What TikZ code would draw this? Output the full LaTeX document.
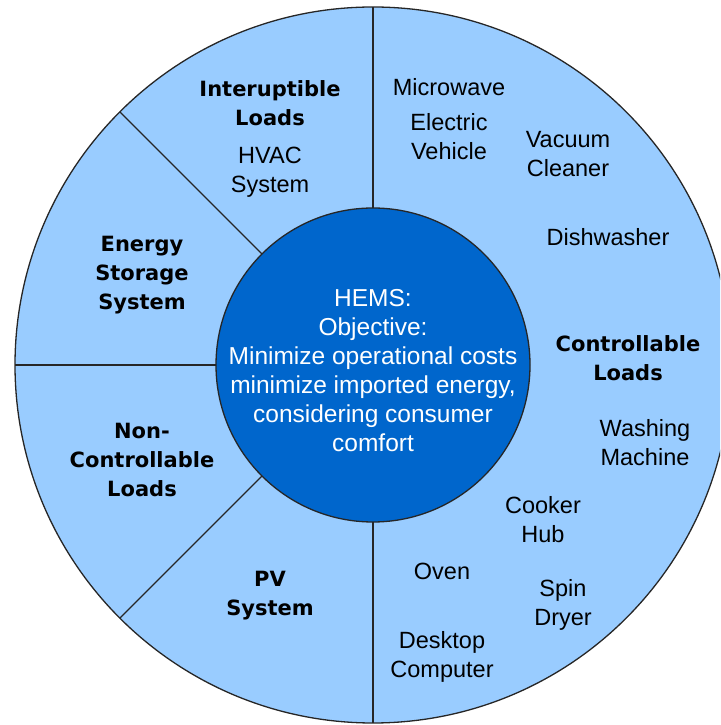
\documentclass[tikz,border=0pt]{standalone}
\usepackage{fontspec}
\setmainfont{Liberation Sans}
\newfontfamily\headfont{DejaVu Sans}
\usepackage{tikz}
\definecolor{ringblue}{HTML}{99CCFF}
\definecolor{coreblue}{HTML}{0066CC}

\begin{document}
\begin{tikzpicture}[x=1pt,y=1pt,
    disc/.style={circle,draw=black!85,line width=1.3pt,inner sep=0pt,outer sep=0pt},
    item/.style={align=center,inner sep=0pt,font=\fontsize{23.5}{29}\selectfont},
    head/.style={align=center,inner sep=0pt,font=\headfont\bfseries\fontsize{21}{29}\selectfont}]
  \useasboundingbox (0,0) rectangle (720,725);
  \clip (0,0) rectangle (720,725);

  % outer ring and the HEMS core
  \node[disc,fill=ringblue,minimum size=716pt] (ring) at (373,360) {};
  \node[disc,fill=coreblue,minimum size=314pt] (hems) at (373,360) {};
  \foreach \a in {90,135,180,225,270}
    \draw[black!85,line width=1.3pt] (hems.\a) -- (ring.\a);
  \node[item,text=white,font=\fontsize{24.5}{29}\selectfont] (goal) at (373,354.5)
    {HEMS:\\Objective:\\Minimize operational costs\\minimize imported energy,\\considering consumer\\comfort};

  % left sectors
  \node[head] (intr) at (270,621.5) {Interuptible\\Loads};
  \node[item] (hvac) at (270,552.5) {HVAC\\System};
  \node[head] (ess) at (142,450) {Energy\\Storage\\System};
  \node[head] (ncl) at (142,265) {Non-\\Controllable\\Loads};
  \node[head] (pv) at (270,129.5) {PV\\System};

  % controllable loads
  \node[item] (micro) at (449,638) {Microwave};
  \node[item] (ev) at (449,588) {Electric\\Vehicle};
  \node[item] (vac) at (568,571) {Vacuum\\Cleaner};
  \node[item] (dish) at (608,488) {Dishwasher};
  \node[head] (ctrl) at (628,367) {Controllable\\Loads};
  \node[item] (wash) at (645,282.5) {Washing\\Machine};
  \node[item] (cook) at (543,205.5) {Cooker\\Hub};
  \node[item] (oven) at (442,154) {Oven};
  \node[item] (spin) at (563,120.5) {Spin\\Dryer};
  \node[item] (desk) at (442,68.5) {Desktop\\Computer};
\end{tikzpicture}
\end{document}
